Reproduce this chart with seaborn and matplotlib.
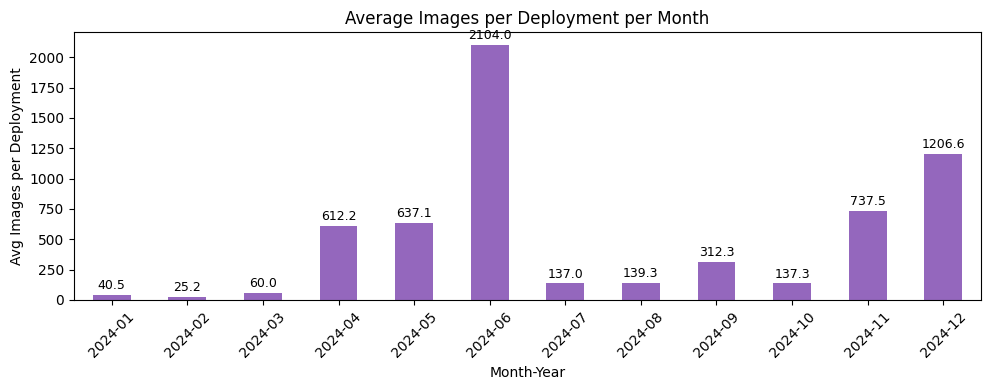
import numpy as np
import pandas as pd
import seaborn as sns
from matplotlib import pyplot as plt

months = ['2024-01', '2024-02', '2024-03', '2024-04', '2024-05', '2024-06',
          '2024-07', '2024-08', '2024-09', '2024-10', '2024-11', '2024-12']
avg_images = [40.5, 25.2, 60.0, 612.2, 637.1, 2104.0,
              137.0, 139.3, 312.3, 137.3, 737.5, 1206.6]

df = pd.DataFrame({'month': months, 'avg': avg_images})

fig, ax = plt.subplots(figsize=(9.89, 3.9), dpi=100)
sns.barplot(data=df, x='month', y='avg', color='#9467bd', saturation=1,
            width=0.5, ax=ax)

for container in ax.containers:
    ax.bar_label(container, fmt='%.1f', padding=2, fontsize=9)

ax.set_title('Average Images per Deployment per Month')
ax.set_xlabel('Month-Year')
ax.set_ylabel('Avg Images per Deployment')
ax.set_xlim(-0.5, len(months) - 0.5)
ax.set_ylim(0, 2209)
plt.xticks(rotation=45)
plt.subplots_adjust(left=0.0748, right=0.9919, top=0.918, bottom=0.2308)
plt.savefig('out.png')
